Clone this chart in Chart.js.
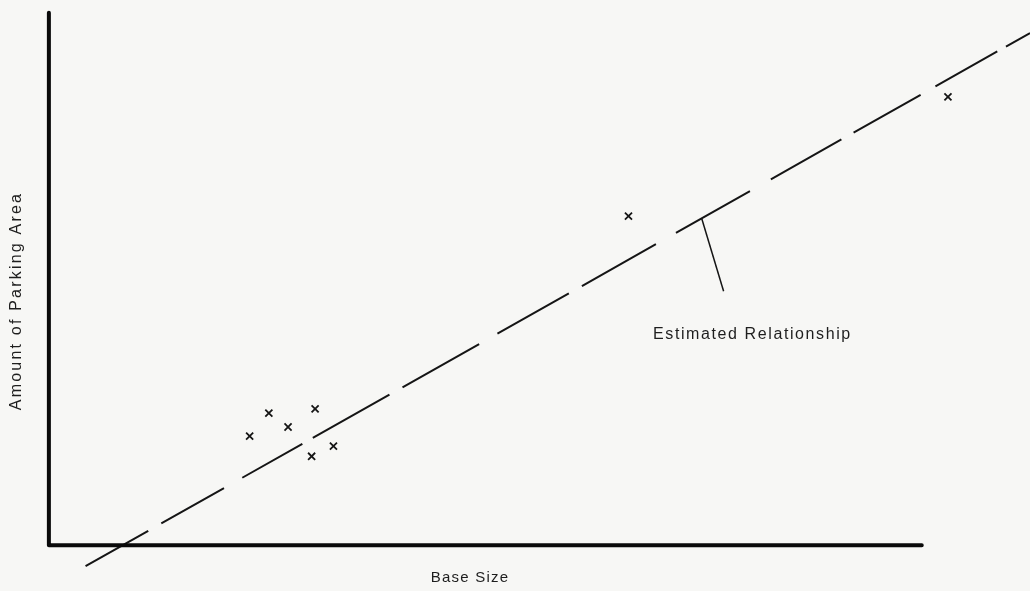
<!DOCTYPE html>
<html>
<head>
<meta charset="utf-8">
<script src="https://cdn.jsdelivr.net/npm/chart.js@4.4.1/dist/chart.umd.min.js"></script>
<style>
  html, body { margin: 0; padding: 0; background: #f7f7f5; }
  #grafico { display: block; }
</style>
</head>
<body>
<canvas id="grafico" width="1030" height="591"></canvas>
<script>
// dados (unidades arbitrarias: origem dos eixos = 0,0 ; fim dos eixos = 100)
let baseSize = [23.0, 25.2, 27.4, 30.5, 30.1, 32.6, 66.4, 103.0];
let parkingArea = [20.5, 24.8, 22.2, 25.6, 16.7, 18.6, 61.8, 84.2];

// reta estimada (vai alem dos eixos)
let retaX = [4.2, 112.4];
let retaY = [-3.95, 96.2];

// eixos em L
let eixoX = [0, 0, 100];
let eixoY = [100, 0, 0];

// traco da legenda "Estimated Relationship"
let setaX = [74.8, 77.3];
let setaY = [61.3, 47.7];

let limitesX = [-5.6, 112.4];
let limitesY = [-8.6, 102.4];

let tituloX = "Base Size";
let tituloY = "Amount of Parking Area";
let rotulo = "Estimated Relationship";

function pares(xs, ys) {
  return xs.map((x, i) => ({ x: x, y: ys[i] }));
}

// textos desenhados por cima (titulos e rotulo)
let textos = {
  id: "textos",
  afterDraw(chart) {
    let ctx = chart.ctx;
    let sx = chart.scales.x;
    let sy = chart.scales.y;
    ctx.save();
    ctx.fillStyle = "#1e1e1e";
    ctx.textAlign = "center";
    ctx.textBaseline = "middle";

    ctx.font = "16px 'Liberation Sans', Arial, sans-serif";
    ctx.letterSpacing = "1.6px";
    ctx.fillText(rotulo, sx.getPixelForValue(80.6), sy.getPixelForValue(39.5));

    ctx.font = "15px 'Liberation Sans', Arial, sans-serif";
    ctx.letterSpacing = "1.2px";
    ctx.fillText(tituloX, 470, 578);

    ctx.font = "16px 'Liberation Sans', Arial, sans-serif";
    ctx.letterSpacing = "2.2px";
    ctx.translate(17, 301);
    ctx.rotate(-Math.PI / 2);
    ctx.fillText(tituloY, 0, 0);
    ctx.restore();
  }
};

let ctx = document.getElementById("grafico").getContext("2d");

new Chart(ctx, {
  type: "scatter",
  data: {
    datasets: [
      {
        label: "eixos",
        data: pares(eixoX, eixoY),
        showLine: true,
        borderColor: "#0a0a0a",
        borderWidth: 4,
        borderJoinStyle: "round",
        borderCapStyle: "round",
        pointRadius: 0
      },
      {
        label: "Estimated Relationship",
        data: pares(retaX, retaY),
        showLine: true,
        borderColor: "#151515",
        borderWidth: 2,
        borderDash: [72, 15, 72, 21, 69, 12, 88, 15, 88, 21, 82, 15, 85, 23, 85, 24, 81, 14, 77, 17, 71, 10, 60],
        pointRadius: 0
      },
      {
        label: "seta",
        data: pares(setaX, setaY),
        showLine: true,
        borderColor: "#151515",
        borderWidth: 1.5,
        pointRadius: 0
      },
      {
        label: "bases",
        data: pares(baseSize, parkingArea),
        pointStyle: "crossRot",
        pointRadius: 5,
        pointBorderWidth: 1.8,
        borderColor: "#151515",
        backgroundColor: "#151515"
      }
    ]
  },
  options: {
    responsive: false,
    animation: false,
    layout: { padding: 0, autoPadding: false },
    scales: {
      x: { type: "linear", display: false, min: limitesX[0], max: limitesX[1] },
      y: { type: "linear", display: false, min: limitesY[0], max: limitesY[1] }
    },
    plugins: {
      legend: { display: false },
      tooltip: { enabled: false }
    }
  },
  plugins: [textos]
});
</script>
</body>
</html>
